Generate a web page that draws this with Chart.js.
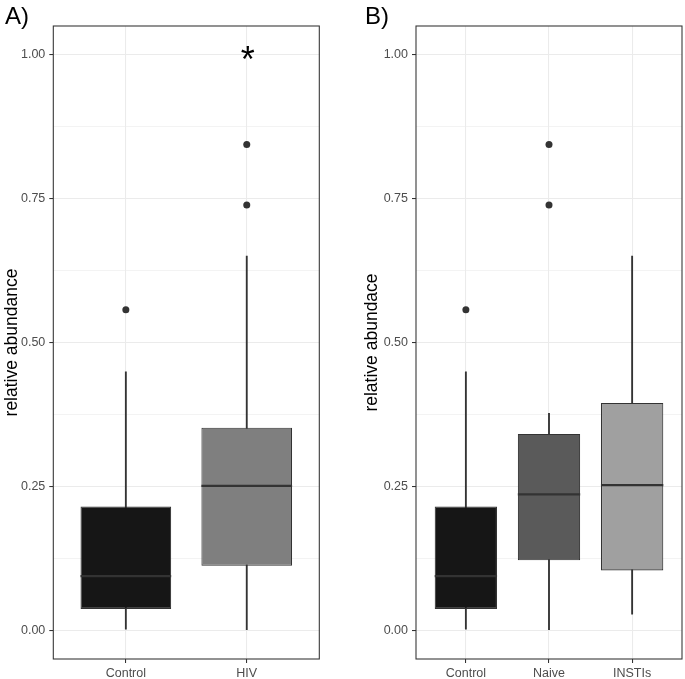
<!DOCTYPE html>
<html>
<head>
<meta charset="utf-8">
<script src="https://cdn.jsdelivr.net/npm/chart.js@4.4.0/dist/chart.umd.min.js"></script>
<style>
body { margin: 0; background: #fff; }
#quadro { position: relative; width: 685px; height: 679px; overflow: hidden; }
canvas { position: absolute; top: 0; }
.painel { position: absolute; top: 4px; font: 24px/24px 'Liberation Sans', Arial, sans-serif; color: #000; }
</style>
</head>
<body>
<div id="quadro">
  <canvas id="graficoA" width="340" height="679" style="left:0px"></canvas>
  <canvas id="graficoB" width="345" height="679" style="left:340px"></canvas>
  <div class="painel" style="left:5px">A)</div>
  <div class="painel" style="left:365px">B)</div>
</div>
<script>
// painel A
const gruposA = ['Control', 'HIV'];
const q1A = [0.037, 0.112];
const medianaA = [0.094, 0.251];
const q3A = [0.215, 0.352];
const minA = [0.002, 0.000];
const maxA = [0.449, 0.650];
const outliersA = [[0.557], [0.739, 0.844]];
const signifA = { grupo: 2, y: 1.00, texto: '*' };

// painel B
const gruposB = ['Control', 'Naive', 'INSTIs'];
const q1B = [0.037, 0.1215, 0.104];
const medianaB = [0.094, 0.236, 0.252];
const q3B = [0.215, 0.341, 0.395];
const minB = [0.002, 0.000, 0.028];
const maxB = [0.449, 0.377, 0.650];
const outliersB = [[0.557], [0.739, 0.844], []];

// eixo y
const ticksY = [0, 0.25, 0.5, 0.75, 1];
const minorY = [0.125, 0.375, 0.625, 0.875];

const coresA = ['#161616', '#7f7f7f'];
const coresB = ['#161616', '#5a5a5a', '#a0a0a0'];

Chart.defaults.font.family = "'Liberation Sans', Arial, sans-serif";

const borda = {
    id: 'borda',
    afterDraw(chart) {
        const { ctx, chartArea: a } = chart;
        ctx.save();
        ctx.strokeStyle = '#333333';
        ctx.lineWidth = 1.07;
        ctx.strokeRect(a.left, a.top, a.right - a.left, a.bottom - a.top);
        ctx.restore();
    }
};

function grafico(id, grupos, q1, mediana, q3, min, max, outliers, cores, tituloY, padding, larguraY, signif) {
    const caixas = grupos.map((g, i) => ({ x: i + 1, y: [q1[i], q3[i]] }));
    const bigodes = grupos.map((g, i) => ({ x: i + 1, y: [min[i], max[i]] }));
    const medianas = grupos.map((g, i) => ({ x: i + 1, y: mediana[i] }));
    const pontos = [];
    outliers.forEach((lista, i) => lista.forEach(v => pontos.push({ x: i + 1, y: v })));

    const metadeCaixa = (c) => {
        const s = c.chart.scales.x;
        return (s.getPixelForValue(1) - s.getPixelForValue(0)) * 0.375;
    };
    const ehMajor = (c) => c.tick && ticksY.includes(c.tick.value);

    const plugins = [borda];
    if (signif) {
        plugins.push({
            id: 'signif',
            afterDatasetsDraw(chart) {
                const { ctx, scales } = chart;
                const x = scales.x.getPixelForValue(signif.grupo);
                const y = scales.y.getPixelForValue(signif.y);
                ctx.save();
                ctx.fillStyle = '#000';
                ctx.font = "36px 'Liberation Sans', Arial, sans-serif";
                ctx.textAlign = 'center';
                ctx.textBaseline = 'alphabetic';
                ctx.fillText(signif.texto, x + 1, y + 17);
                ctx.restore();
            }
        });
    }

    return new Chart(document.getElementById(id), {
        type: 'bar',
        data: {
            datasets: [{
                type: 'bar',
                data: bigodes,
                backgroundColor: '#333333',
                borderWidth: 0,
                grouped: false,
                barThickness: 1.2,
                order: 3
            }, {
                type: 'bar',
                data: caixas,
                backgroundColor: cores,
                borderColor: '#333333',
                borderWidth: 1.1,
                borderSkipped: false,
                grouped: false,
                categoryPercentage: 1,
                barPercentage: 0.75,
                order: 2
            }, {
                type: 'scatter',
                data: medianas,
                pointStyle: 'line',
                pointRadius: metadeCaixa,
                pointBorderColor: '#333333',
                pointBorderWidth: 2.2,
                order: 1
            }, {
                type: 'scatter',
                data: pontos,
                pointRadius: 3.5,
                pointBackgroundColor: '#333333',
                pointBorderWidth: 0,
                order: 0
            }]
        },
        options: {
            responsive: false,
            animation: false,
            events: [],
            layout: { padding: padding, autoPadding: false },
            plugins: { legend: { display: false }, tooltip: { enabled: false } },
            scales: {
                x: {
                    type: 'linear',
                    min: 0.4,
                    max: grupos.length + 0.6,
                    bounds: 'data',
                    offset: false,
                    afterBuildTicks: (s) => { s.ticks = grupos.map((g, i) => ({ value: i + 1 })); },
                    afterFit: (s) => { s.height = 20; },
                    ticks: {
                        callback: (v) => grupos[v - 1],
                        autoSkip: false,
                        maxRotation: 0,
                        color: '#4d4d4d',
                        font: { size: 12.5 },
                        padding: 3
                    },
                    grid: { offset: false, color: '#ebebeb', lineWidth: 1.07, tickColor: '#333333', tickLength: 4 },
                    border: { display: false }
                },
                y: {
                    min: -0.05,
                    max: 1.05,
                    bounds: 'data',
                    afterBuildTicks: (s) => {
                        s.ticks = ticksY.concat(minorY).sort((a, b) => a - b).map(v => ({ value: v }));
                    },
                    afterFit: (s) => { s.width = larguraY; },
                    ticks: {
                        callback: (v) => ticksY.includes(v) ? v.toFixed(2) : '',
                        autoSkip: false,
                        color: '#4d4d4d',
                        font: { size: 12.5 },
                        padding: 4
                    },
                    grid: {
                        color: '#ebebeb',
                        lineWidth: (c) => ehMajor(c) ? 1.07 : 0.6,
                        tickColor: (c) => ehMajor(c) ? '#333333' : 'rgba(0,0,0,0)',
                        tickLength: 4
                    },
                    border: { display: false },
                    title: {
                        display: true,
                        text: tituloY,
                        color: '#000',
                        font: { size: 17.5 },
                        padding: { top: 1.5, bottom: 0 }
                    }
                }
            }
        },
        plugins: plugins
    });
}

grafico('graficoA', gruposA, q1A, medianaA, q3A, minA, maxA, outliersA, coresA, 'relative abundance',
    { left: 0, top: 26, right: 20.7, bottom: 0 }, 53.3, signifA);
grafico('graficoB', gruposB, q1B, medianaB, q3B, minB, maxB, outliersB, coresB, 'relative abundace',
    { left: 20, top: 26, right: 3, bottom: 0 }, 56, null);
</script>
</body>
</html>
